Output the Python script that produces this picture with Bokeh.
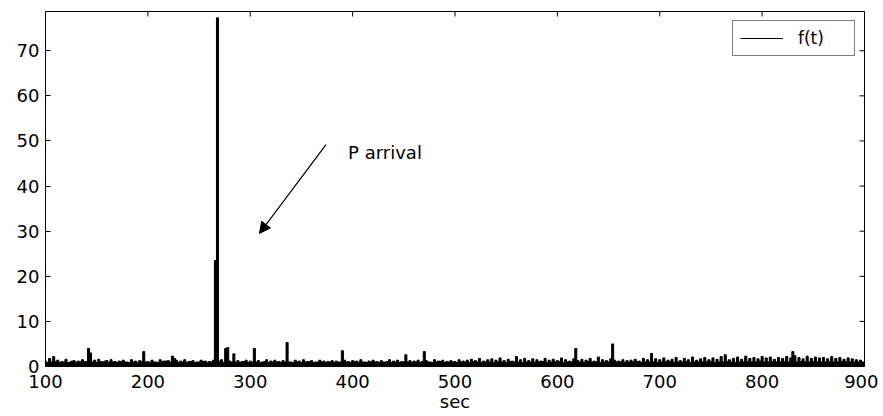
import math
from bokeh.plotting import figure
from bokeh.models import (Range1d, FixedTicker, Arrow, NormalHead,
                          Label, Legend, LegendItem, ColumnDataSource)
from bokeh.embed import file_html
from bokeh.resources import INLINE

# ---- data -------------------------------------------------------------
t_start, t_end, t_step = 100, 900, 2
ft_values = [
    1.2, 0.9, 1.8, 1.0, 2.2, 1.1, 1.4, 0.9, 1.1, 1.0, 1.6, 0.9, 1.0, 1.2, 1.3, 0.9, 1.2, 1.0, 1.5, 1.1,
    1.1, 4.0, 3.0, 1.0, 1.4, 0.9, 1.6, 1.1, 1.0, 1.2, 1.3, 0.9, 1.5, 1.0, 1.1, 0.9, 1.2, 1.1, 1.4, 1.0,
    1.0, 0.9, 1.5, 1.0, 1.2, 0.9, 1.3, 1.1, 3.3, 1.0, 1.1, 0.9, 1.4, 1.0, 1.0, 0.9, 1.5, 1.1, 1.2, 1.2,
    1.3, 1.0, 2.3, 1.8, 1.4, 0.9, 1.2, 1.0, 1.5, 0.9, 1.1, 1.1, 1.3, 0.9, 1.0, 1.0, 1.4, 1.1, 1.2, 0.9,
    1.1, 1.0, 1.4, 23.5, 77.3, 1.2, 1.5, 0.9, 4.0, 4.2, 1.2, 1.0, 2.8, 1.0, 1.3, 0.9, 1.1, 1.1, 1.4, 0.9,
    1.2, 1.0, 4.0, 1.0, 1.3, 0.9, 1.0, 1.1, 1.5, 0.9, 1.2, 1.0, 1.4, 1.0, 1.1, 0.9, 1.3, 1.0, 5.3, 1.0,
    1.0, 0.9, 1.4, 1.0, 1.2, 0.9, 1.5, 1.0, 1.1, 1.1, 1.3, 0.9, 1.0, 1.0, 1.4, 1.0, 1.2, 0.9, 1.1, 1.0,
    1.3, 0.9, 1.2, 1.0, 1.0, 3.5, 1.4, 1.0, 1.1, 0.9, 1.3, 1.1, 1.2, 0.9, 1.5, 1.0, 1.0, 0.9, 1.2, 1.0,
    1.4, 1.0, 1.1, 0.9, 1.3, 1.0, 1.0, 1.1, 1.5, 0.9, 1.2, 1.0, 1.4, 0.9, 1.1, 1.0, 2.6, 1.0, 1.3, 0.9,
    1.2, 1.0, 1.4, 0.9, 1.1, 3.3, 1.3, 1.0, 1.0, 0.9, 1.5, 1.0, 1.2, 1.1, 1.4, 0.9, 1.1, 1.0, 1.3, 1.0,
    1.1, 0.9, 1.5, 1.0, 1.2, 1.0, 1.4, 0.9, 1.6, 1.1, 1.3, 1.0, 1.8, 0.9, 1.2, 1.0, 1.5, 1.0, 1.7, 0.9,
    1.4, 1.0, 1.9, 1.0, 1.3, 0.9, 1.6, 1.1, 1.2, 1.0, 2.2, 1.0, 1.5, 0.9, 1.8, 1.0, 1.3, 1.0, 1.7, 0.9,
    1.5, 1.0, 1.2, 1.1, 1.8, 0.9, 1.4, 1.0, 1.6, 1.0, 1.3, 1.1, 1.9, 0.9, 1.5, 1.0, 1.2, 1.0, 1.7, 4.0,
    1.3, 1.0, 1.6, 0.9, 1.4, 1.1, 1.8, 1.0, 1.2, 1.0, 2.1, 0.9, 1.5, 1.0, 1.3, 1.0, 1.7, 5.0, 1.4, 1.0,
    1.2, 1.0, 1.5, 0.9, 1.3, 1.0, 1.4, 1.0, 1.6, 1.1, 1.2, 0.9, 1.8, 1.0, 1.5, 1.0, 2.9, 1.0, 1.7, 0.9,
    1.5, 1.0, 1.9, 1.0, 1.4, 1.1, 1.6, 0.9, 2.0, 1.0, 1.3, 1.0, 1.8, 1.1, 1.5, 0.9, 2.1, 1.0, 1.4, 1.0,
    1.7, 1.0, 2.0, 1.0, 1.5, 1.1, 1.9, 0.9, 1.6, 1.0, 2.2, 1.0, 2.6, 1.1, 1.5, 1.0, 1.8, 0.9, 2.1, 1.0,
    1.6, 1.0, 2.3, 1.1, 1.8, 1.0, 2.0, 1.0, 1.7, 1.2, 2.2, 1.0, 1.9, 1.0, 2.1, 1.1, 1.6, 1.0, 2.0, 1.0,
    1.8, 1.1, 2.2, 1.0, 1.9, 3.3, 2.4, 1.0, 2.0, 1.1, 1.7, 1.0, 2.3, 1.0, 1.8, 1.1, 2.1, 1.0, 1.9, 1.0,
    2.0, 1.0, 1.7, 1.1, 2.2, 1.0, 1.8, 1.0, 2.0, 1.1, 1.6, 1.0, 1.9, 1.0, 1.7, 1.0, 1.5, 1.0, 1.4, 1.0,
    1.0,
]
t_values = list(range(t_start, t_end + 1, t_step))

x_ticks = [100, 200, 300, 400, 500, 600, 700, 800, 900]
y_ticks = [0, 10, 20, 30, 40, 50, 60, 70]

legend_label = "f(t)"
x_label = "sec"
annot_text = "P arrival"
arrow_start = (374, 49.2)
arrow_end = (309, 29.5)
annot_pos = (395.6, 47.4)

X_MIN, X_MAX = 100, 900
Y_MIN, Y_MAX = 0, 78.7

FONT = "DejaVu Sans"
FS = "18px"

# ---- figure -----------------------------------------------------------
p = figure(width=878, height=416, output_backend="svg", toolbar_location=None,
           x_range=Range1d(X_MIN, X_MAX), y_range=Range1d(Y_MIN, Y_MAX),
           min_border_left=45, min_border_right=14, min_border_top=11,
           min_border_bottom=50)
p.background_fill_color = "white"
p.border_fill_color = "white"
p.outline_line_color = "black"
p.outline_line_width = 1
p.xgrid.visible = False
p.ygrid.visible = False

src = ColumnDataSource(dict(t=t_values, f=ft_values, z=[0] * len(t_values)))
p.varea_step(x="t", y1="z", y2="f", source=src, step_mode="center",
             fill_color="black")
r = p.step("t", "f", source=src, mode="center", line_color="black", line_width=1)

for ax, ticks in ((p.xaxis[0], x_ticks), (p.yaxis[0], y_ticks)):
    ax.ticker = FixedTicker(ticks=ticks)
    ax.axis_line_color = "black"
    ax.major_tick_line_color = "black"
    ax.major_tick_in = 5
    ax.major_tick_out = 0
    ax.minor_tick_line_color = None
    ax.major_label_text_font = FONT
    ax.major_label_text_font_size = FS
    ax.major_label_text_color = "black"

p.xaxis[0].major_label_standoff = 8
p.yaxis[0].major_label_standoff = 6
p.xaxis[0].axis_label = x_label
p.xaxis[0].axis_label_text_font = FONT
p.xaxis[0].axis_label_text_font_size = FS
p.xaxis[0].axis_label_text_font_style = "normal"
p.xaxis[0].axis_label_text_color = "black"
p.xaxis[0].axis_label_standoff = 0

# inward ticks on the top and right edges of the box
p.ray(x=x_ticks, y=[Y_MAX] * len(x_ticks), length=5, length_units="screen",
      angle=-math.pi / 2, line_color="black", line_width=1)
p.ray(x=[X_MAX] * len(y_ticks), y=y_ticks, length=5, length_units="screen",
      angle=math.pi, line_color="black", line_width=1)

# annotation
p.add_layout(Arrow(end=NormalHead(size=11, fill_color="black", line_color="black"),
                   x_start=arrow_start[0], y_start=arrow_start[1],
                   x_end=arrow_end[0], y_end=arrow_end[1],
                   line_color="black", line_width=1.2))
p.add_layout(Label(x=annot_pos[0], y=annot_pos[1], text=annot_text,
                   text_font=FONT, text_font_size=FS, text_color="black",
                   text_baseline="middle", text_align="left"))

legend = Legend(items=[LegendItem(label=legend_label, renderers=[r])],
                location="top_right")
legend.margin = 9
legend.padding = 7
legend.glyph_width = 43
legend.glyph_height = 12
legend.label_height = 12
legend.label_width = 49
legend.label_standoff = 15
legend.label_text_font = FONT
legend.label_text_font_size = "17px"
legend.label_text_color = "black"
legend.border_line_color = "black"
legend.border_line_width = 1
legend.background_fill_color = "white"
legend.background_fill_alpha = 1
p.add_layout(legend, "center")

open("out.html", "w").write(file_html(p, INLINE))
